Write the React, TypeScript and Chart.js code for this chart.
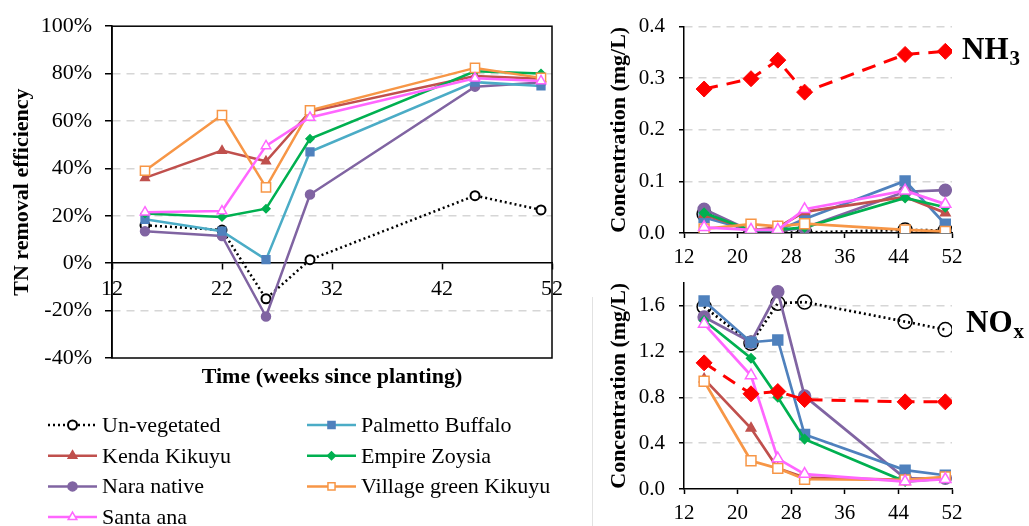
import React, { useEffect, useRef } from 'react';
import { Chart, registerables } from 'chart.js';
import { drawPoint } from 'chart.js/helpers';

Chart.register(...registerables);
Chart.defaults.font.family = "'Liberation Serif', 'Times New Roman', serif";
Chart.defaults.color = '#000';

// ---------- data ----------
const weeks = [15, 22, 26, 30, 45, 51];
const seriesNames = [
  'Un-vegetated',
  'Palmetto Buffalo',
  'Kenda Kikuyu',
  'Empire Zoysia',
  'Nara native',
  'Village green Kikuyu',
  'Santa ana',
];
const influentName = 'Influent';

// TN removal efficiency (%)
const tnUnveg = [16, 14, -15, 1.5, 28.5, 22.5];
const tnPalmetto = [18.5, 13.5, 1.5, 47, 76.4, 74.8];
const tnKenda = [36, 47.5, 43, 64, 79, 77.8];
const tnEmpire = [21, 19.5, 23, 52.5, 81, 80];
const tnNara = [13.5, 11.5, -22.5, 29, 74.5, 76.2];
const tnVillage = [39, 62.5, 32, 64.5, 82.4, 78.2];
const tnSanta = [21.5, 22, 49.5, 61.5, 78, 76.9];

// NH3 concentration (mg/L)
const nh3Influent = [0.279, 0.299, 0.335, 0.273, 0.346, 0.352];
const nh3Unveg = [0.037, 0.001, 0.001, 0.001, 0.006, 0.005];
const nh3Palmetto = [0.03, 0.005, 0.005, 0.027, 0.101, 0.017];
const nh3Kenda = [0.036, 0.005, 0.011, 0.041, 0.07, 0.039];
const nh3Empire = [0.039, 0.005, 0.006, 0.011, 0.068, 0.05];
const nh3Nara = [0.046, 0.004, 0.004, 0.01, 0.08, 0.083];
const nh3Village = [0.008, 0.017, 0.013, 0.018, 0.006, 0.003];
const nh3Santa = [0.011, 0.006, 0.006, 0.046, 0.082, 0.056];

// NOx concentration (mg/L)
const noxInfluent = [1.1, 0.83, 0.85, 0.78, 0.76, 0.76];
const noxUnveg = [1.59, 1.27, 1.62, 1.63, 1.46, 1.39];
const noxPalmetto = [1.64, 1.28, 1.3, 0.475, 0.165, 0.12];
const noxKenda = [0.96, 0.53, 0.18, 0.1, 0.08, 0.085];
const noxEmpire = [1.47, 1.14, 0.8, 0.435, 0.065, 0.093];
const noxNara = [1.5, 1.28, 1.72, 0.81, 0.093, 0.093];
const noxVillage = [0.94, 0.246, 0.18, 0.085, 0.08, 0.105];
const noxSanta = [1.44, 0.99, 0.265, 0.13, 0.065, 0.085];

const tnValues = [tnUnveg, tnPalmetto, tnKenda, tnEmpire, tnNara, tnVillage, tnSanta];
const nh3Values = [nh3Unveg, nh3Palmetto, nh3Kenda, nh3Empire, nh3Nara, nh3Village, nh3Santa];
const noxValues = [noxUnveg, noxPalmetto, noxKenda, noxEmpire, noxNara, noxVillage, noxSanta];

const tnTitle = 'TN removal efficiency';
const timeTitle = 'Time (weeks since planting)';
const concTitle = 'Concentration (mg/L)';

// ---------- styles ----------
type Sty = {
  line: string; lineR: string; fill: string; fillR: string; stroke: string;
  point: string; r: number; rr: number; bw: number; dash: number[]; order: number;
};
const styles: Sty[] = [
  { line: '#000000', lineR: '#000000', fill: '#ffffff', fillR: 'rgba(255,255,255,0)', stroke: '#000000', point: 'circle', r: 4.5, rr: 7, bw: 2, dash: [2, 3], order: 7 },
  { line: '#4BACC6', lineR: '#4F81BD', fill: '#4F81BD', fillR: '#4F81BD', stroke: '#4F81BD', point: 'rect', r: 5.5, rr: 7, bw: 1.5, dash: [], order: 5 },
  { line: '#C0504D', lineR: '#C0504D', fill: '#C0504D', fillR: '#C0504D', stroke: '#C0504D', point: 'triangle', r: 5, rr: 5.5, bw: 1.5, dash: [], order: 4 },
  { line: '#00B050', lineR: '#00B050', fill: '#00B050', fillR: '#00B050', stroke: '#00B050', point: 'rectRot', r: 4, rr: 4.5, bw: 1.5, dash: [], order: 3 },
  { line: '#8064A2', lineR: '#8064A2', fill: '#8064A2', fillR: '#8064A2', stroke: '#8064A2', point: 'circle', r: 4.5, rr: 6, bw: 1.5, dash: [], order: 6 },
  { line: '#F79646', lineR: '#F79646', fill: '#ffffff', fillR: '#ffffff', stroke: '#F79646', point: 'rect', r: 6.5, rr: 7, bw: 1.5, dash: [], order: 2 },
  { line: '#FF66FF', lineR: '#FF66FF', fill: '#ffffff', fillR: '#ffffff', stroke: '#FF66FF', point: 'triangle', r: 5.5, rr: 6.5, bw: 1.5, dash: [], order: 1 },
];

const GRID = '#d6d6d6';

// ---------- plugins ----------
const frameAndLegend = {
  id: 'frameAndLegend',
  afterDraw(chart: any) {
    const { ctx, chartArea: a } = chart;
    ctx.save();
    ctx.strokeStyle = '#000';
    ctx.lineWidth = 1.5;
    ctx.setLineDash([]);
    ctx.strokeRect(a.left, a.top, a.right - a.left, a.bottom - a.top);

    // legend (two columns, row-major)
    const colX = [48, 307];
    const sampleLen = 49;
    const row0 = a.bottom + 67;
    const rowStep = 30.7;
    chart.data.datasets.forEach((ds: any, i: number) => {
      const cx = colX[i % 2];
      const cy = row0 + Math.floor(i / 2) * rowStep;
      ctx.save();
      ctx.strokeStyle = ds.borderColor;
      ctx.lineWidth = 2.5;
      ctx.setLineDash(ds.borderDash || []);
      ctx.beginPath();
      ctx.moveTo(cx, cy);
      ctx.lineTo(cx + sampleLen, cy);
      ctx.stroke();
      ctx.setLineDash([]);
      ctx.fillStyle = ds.pointBackgroundColor;
      ctx.strokeStyle = ds.pointBorderColor;
      ctx.lineWidth = ds.pointBorderWidth;
      drawPoint(ctx, { pointStyle: ds.pointStyle, rotation: 0, radius: Math.min(ds.pointRadius, 5), borderWidth: ds.pointBorderWidth }, cx + sampleLen / 2, cy);
      ctx.fillStyle = '#000';
      ctx.font = "22px 'Liberation Serif'";
      ctx.textAlign = 'left';
      ctx.textBaseline = 'alphabetic';
      ctx.fillText(ds.label, cx + sampleLen + 5, cy + 7);
      ctx.restore();
    });
    ctx.restore();
  },
};

function chemLabel(main: string, sub: string, dx: number, baseline: number) {
  return {
    id: 'chemLabel',
    afterDraw(chart: any) {
      const { ctx, chartArea: a } = chart;
      ctx.save();
      ctx.fillStyle = '#000';
      ctx.textAlign = 'left';
      ctx.textBaseline = 'alphabetic';
      ctx.font = "bold 31px 'Liberation Serif'";
      const x = a.right + dx;
      ctx.fillText(main, x, baseline);
      const w = ctx.measureText(main).width;
      ctx.font = "bold 21px 'Liberation Serif'";
      ctx.fillText(sub, x + w + 1, baseline + 6);
      ctx.restore();
    },
  };
}

// ---------- configs ----------
function leftConfig(): any {
  const datasets = seriesNames.map((name, i) => {
    const s = styles[i];
    return {
      label: name,
      data: weeks.map((w, j) => ({ x: w, y: tnValues[i][j] })),
      borderColor: s.line,
      backgroundColor: s.fill,
      pointBackgroundColor: s.fill,
      pointBorderColor: s.stroke,
      pointStyle: s.point,
      pointRadius: s.r,
      pointBorderWidth: s.bw,
      borderWidth: 2.5,
      borderDash: s.dash,
      order: s.order,
      tension: 0,
      fill: false,
    };
  });
  return {
    type: 'line',
    data: { datasets },
    plugins: [frameAndLegend],
    options: {
      animation: false,
      responsive: false,
      events: [],
      layout: { padding: { left: 5, top: 19, right: 38, bottom: 168 } },
      plugins: { legend: { display: false }, tooltip: { enabled: false } },
      scales: {
        x: {
          type: 'linear',
          position: { y: 0 },
          min: 12,
          max: 52,
          afterFit: (s: any) => { s.height = 131; },
          ticks: { stepSize: 10, padding: 7, font: { size: 22 }, color: '#000', maxRotation: 0 },
          grid: { drawOnChartArea: false, drawTicks: true, tickLength: 6, tickColor: '#000', tickWidth: 1.5 },
          border: { display: true, color: '#000', width: 1.5 },
          title: { display: true, text: timeTitle, font: { size: 22, weight: 'bold' }, color: '#000', padding: { top: 4, bottom: 4 } },
        },
        y: {
          type: 'linear',
          min: -40,
          max: 100,
          afterFit: (s: any) => { s.width = 107; },
          ticks: { stepSize: 20, padding: 13, font: { size: 22 }, color: '#000', callback: (v: any) => `${v}%` },
          grid: {
            color: (c: any) => (c.tick && [20, 40, 60, 80, -20].includes(c.tick.value) ? GRID : 'transparent'),
            lineWidth: 1.5,
            tickLength: 7,
            tickColor: '#000',
            tickWidth: 1.5,
          },
          border: { display: true, color: '#000', width: 1.5, dash: [8, 6] },
          title: { display: true, text: tnTitle, font: { size: 22, weight: 'bold' }, color: '#000', padding: { top: 4, bottom: 4 } },
        },
      },
    },
  };
}

function rightConfig(values: number[][], influent: number[], yMax: number, yStep: number, main: string, sub: string, dx: number, baseline: number): any {
  const datasets: any[] = seriesNames.map((name, i) => {
    const s = styles[i];
    return {
      label: name,
      data: weeks.map((w, j) => ({ x: w, y: values[i][j] })),
      borderColor: s.lineR,
      backgroundColor: s.fillR,
      pointBackgroundColor: s.fillR,
      pointBorderColor: s.stroke,
      pointStyle: s.point,
      pointRadius: s.rr,
      pointBorderWidth: 1.5,
      borderWidth: 2.7,
      borderDash: s.dash,
      order: s.order,
      tension: 0,
      fill: false,
    };
  });
  datasets.push({
    label: influentName,
    data: weeks.map((w, j) => ({ x: w, y: influent[j] })),
    borderColor: '#FF0000',
    backgroundColor: '#FF0000',
    pointBackgroundColor: '#FF0000',
    pointBorderColor: '#FF0000',
    pointStyle: 'rectRot',
    pointRadius: 8,
    pointBorderWidth: 1,
    borderWidth: 3,
    borderDash: [14, 9],
    order: 0,
    tension: 0,
    fill: false,
  });
  return {
    type: 'line',
    data: { datasets },
    plugins: [chemLabel(main, sub, dx, baseline)],
    options: {
      animation: false,
      responsive: false,
      events: [],
      layout: { padding: { left: 6, top: 18, right: 77, bottom: 0 } },
      plugins: { legend: { display: false }, tooltip: { enabled: false } },
      scales: {
        x: {
          type: 'linear',
          position: 'bottom',
          min: 12,
          max: 52,
          afterFit: (s: any) => { s.height = 37; },
          ticks: { stepSize: 8, padding: 7, font: { size: 21 }, color: '#000', maxRotation: 0 },
          grid: { drawOnChartArea: false, drawTicks: true, tickLength: 5, tickColor: '#000', tickWidth: 1.5 },
          border: { display: true, color: '#000', width: 1.5 },
        },
        y: {
          type: 'linear',
          min: 0,
          max: yMax,
          afterFit: (s: any) => { s.width = 82; },
          ticks: { stepSize: yStep, includeBounds: false, padding: 14, font: { size: 21 }, color: '#000', callback: (v: any) => Number(v).toFixed(1) },
          grid: {
            color: (c: any) => (c.tick && c.tick.value > 0 ? GRID : 'transparent'),
            lineWidth: 1.5,
            tickLength: 5,
            tickColor: '#000',
            tickWidth: 1.5,
          },
          border: { display: true, color: '#000', width: 1.5, dash: [8, 6] },
          title: { display: true, text: concTitle, font: { size: 22, weight: 'bold' }, color: '#000', padding: { top: 4, bottom: 4 } },
        },
      },
    },
  };
}

// ---------- components ----------
function ChartBox(props: { left: number; top: number; width: number; height: number; make: () => any }) {
  const ref = useRef<HTMLCanvasElement>(null);
  useEffect(() => {
    if (!ref.current) return;
    const chart = new Chart(ref.current, props.make());
    return () => chart.destroy();
  }, []);
  return (
    <div style={{ position: 'absolute', left: props.left, top: props.top, width: props.width, height: props.height }}>
      <canvas ref={ref} width={props.width} height={props.height} style={{ display: 'block', width: props.width, height: props.height }} />
    </div>
  );
}

export default function App() {
  return (
    <div style={{ position: 'absolute', left: 0, top: 0, width: 1029, height: 526, background: '#fff', overflow: 'hidden' }}>
      <ChartBox left={0} top={0} width={590} height={526} make={leftConfig} />
      <div style={{ position: 'absolute', left: 592, top: 297, width: 1, height: 229, background: '#e2e2e2' }} />
      <ChartBox left={596} top={0} width={433} height={270} make={() => rightConfig(nh3Values, nh3Influent, 0.4, 0.1, 'NH', '3', 10, 59)} />
      <ChartBox left={596} top={256} width={433} height={270} make={() => rightConfig(noxValues, noxInfluent, 1.8, 0.4, 'NO', 'x', 14, 76)} />
    </div>
  );
}
